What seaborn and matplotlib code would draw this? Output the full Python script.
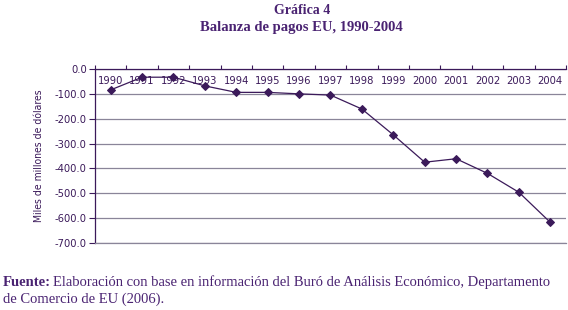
import numpy as np
import pandas as pd

import seaborn as sns
from matplotlib import pyplot as plt
from matplotlib.ticker import FixedLocator, FuncFormatter

YEARS = [1990, 1991, 1992, 1993, 1994, 1995, 1996, 1997, 1998, 1999, 2000, 2001, 2002, 2003, 2004]
BALANCE = [-84, -33, -33, -68, -94, -94, -100, -105, -161, -265, -375, -361, -420, -496, -617]
Y_TICKS = [0, -100, -200, -300, -400, -500, -600, -700]

PURPLE = "#3b1a5a"
TEXT = "#4a2372"
GRID = "#8a8599"

sns.set_style("white")
plt.rcParams["axes.unicode_minus"] = False
plt.rcParams["font.family"] = ["DejaVu Sans"]
plt.rcParams["font.stretch"] = "condensed"


def plot():
    tab = pd.DataFrame({"pos": np.arange(len(YEARS)), "year": YEARS, "balance": BALANCE})

    f = plt.figure(figsize=(5.68, 3.10), dpi=100)
    ax = f.add_axes([95 / 568, 1 - 243 / 310, 471 / 568, 174 / 310])

    sns.lineplot(
        data=tab,
        x="pos",
        y="balance",
        ax=ax,
        color=PURPLE,
        linewidth=0.9,
        marker="D",
        markersize=4,
        markeredgecolor=PURPLE,
        zorder=3,
    )

    ax.set_xlim(-0.5, len(YEARS) - 0.5)
    ax.set_ylim(-700, 0)

    # gridlines
    ax.yaxis.set_major_locator(FixedLocator(Y_TICKS))
    ax.grid(axis="y", color=GRID, linewidth=0.9)
    ax.grid(axis="x", visible=False)
    ax.set_axisbelow(True)

    # spines
    ax.spines["right"].set_visible(False)
    ax.spines["bottom"].set_color(GRID)
    ax.spines["bottom"].set_linewidth(0.9)
    ax.spines["left"].set_color(PURPLE)
    ax.spines["top"].set_color(PURPLE)
    ax.spines["left"].set_linewidth(0.9)
    ax.spines["top"].set_linewidth(0.9)

    # x axis on top: ticks at category boundaries, labels at centers inside the plot
    ax.xaxis.set_major_locator(FixedLocator(np.arange(len(YEARS) + 1) - 0.5))
    ax.xaxis.set_minor_locator(FixedLocator(tab.pos.values))
    ax.xaxis.set_major_formatter(FuncFormatter(lambda v, p: ""))
    ax.xaxis.set_minor_formatter(FuncFormatter(lambda v, p: str(YEARS[int(round(v))])))
    ax.tick_params(axis="x", which="major", top=True, bottom=False, labeltop=False,
                   labelbottom=False, direction="out", length=3, color=PURPLE, width=0.8)
    ax.tick_params(axis="x", which="minor", top=True, bottom=False, labeltop=True,
                   labelbottom=False, length=0, pad=-12, labelsize=8, labelcolor=PURPLE)

    ax.yaxis.set_major_formatter(FuncFormatter(lambda v, p: f"{v:.1f}"))
    ax.tick_params(axis="y", left=True, direction="out", length=4, color=PURPLE,
                   width=0.8, labelsize=8, labelcolor=PURPLE, pad=2)

    ax.set_xlabel("")
    ax.set_ylabel("Miles de millones de dólares", fontsize=7.5, color=PURPLE, labelpad=8)

    serif = ["Liberation Serif", "DejaVu Serif"]
    f.text(0.532, 1 - 11 / 310, "Gráfica 4", ha="center", va="center", family=serif,
           fontsize=10, fontweight="bold", color=TEXT, stretch="normal")
    f.text(0.53, 1 - 27 / 310, "Balanza de pagos EU, 1990-2004", ha="center", va="center",
           family=serif, fontsize=10.5, fontweight="bold", color=TEXT, stretch="normal")

    f.text(3 / 568, 1 - 282 / 310, "Fuente:", ha="left", va="center", family=serif,
           fontsize=10.5, fontweight="bold", color=TEXT, stretch="normal")
    f.text(53 / 568, 1 - 282 / 310,
           "Elaboración con base en información del Buró de Análisis Económico, Departamento",
           ha="left", va="center", family=serif, fontsize=10.5, color=TEXT, stretch="normal")
    f.text(3 / 568, 1 - 299 / 310, "de Comercio de EU (2006).", ha="left", va="center",
           family=serif, fontsize=10.5, color=TEXT, stretch="normal")

    plt.savefig("out.png", dpi=100)
    plt.close(f)


if __name__ == "__main__":
    plot()
